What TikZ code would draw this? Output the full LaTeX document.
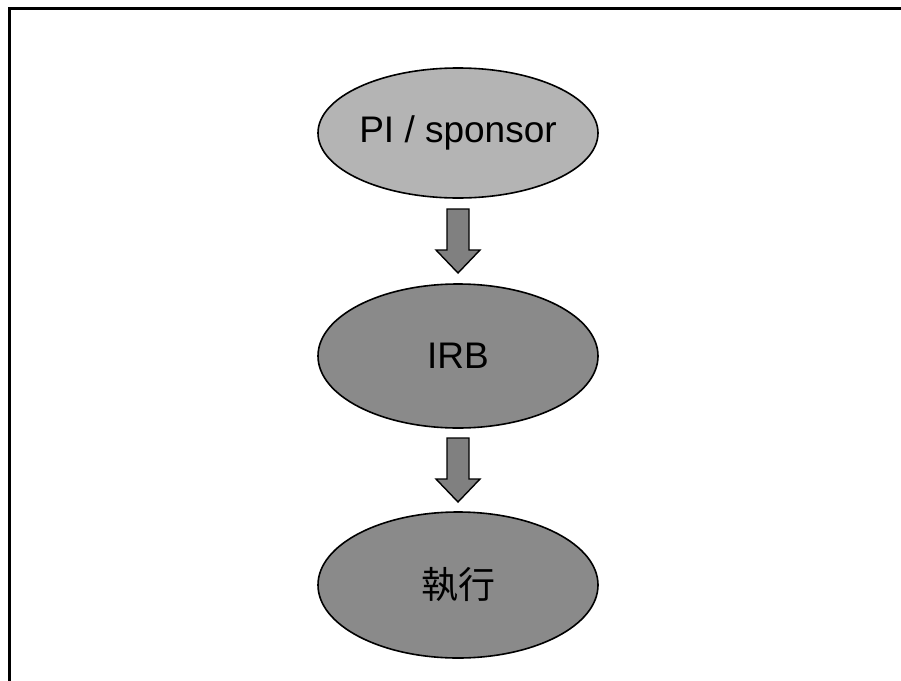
\documentclass[tikz,border=0pt]{standalone}
\usepackage{fontspec}
\setmainfont{Liberation Sans}
\newfontfamily\cjkfont{Noto Sans CJK TC}
\usetikzlibrary{shapes.geometric,calc}
\definecolor{lightfill}{RGB}{180,180,180}
\definecolor{darkfill}{RGB}{138,138,138}
\definecolor{arrowfill}{RGB}{128,128,128}
\tikzset{
  stage/.style={ellipse, draw=black, line width=1.6pt, minimum width=280pt,
    inner sep=0pt, font=\fontsize{37}{40}\selectfont, text=black},
  blockarrow/.style={draw=black, line width=1.4pt, fill=arrowfill, line join=miter}
}
% block arrow pointing down, centred on the given coordinate
\newcommand{\downarrowat}[1]{%
  \draw[blockarrow] ($(#1)+(-11,-32)$) -- ($(#1)+(11,-32)$) -- ($(#1)+(11,9)$)
    -- ($(#1)+(22,9)$) -- ($(#1)+(0,32)$) -- ($(#1)+(-22,9)$)
    -- ($(#1)+(-11,9)$) -- cycle;}
\begin{document}
\begin{tikzpicture}[x=1pt,y=-1pt]
  \useasboundingbox (0,0) rectangle (901,680);
  \clip (0,0) rectangle (901,680);
  \fill[white] (0,0) rectangle (901,680);
  % slide frame (top and left edges)
  \coordinate (fl) at (9.5,690);
  \coordinate (fc) at (9.5,8.5);
  \coordinate (fr) at (910,8.5);
  \draw[line width=3pt, line join=miter] (fl) -- (fc) -- (fr);
  % stages
  \node[stage, fill=lightfill, minimum height=130pt] (pi) at (458,133) {PI / sponsor};
  \node[stage, fill=darkfill, minimum height=144pt] (irb) at (458,356) {IRB};
  \node[stage, fill=darkfill, minimum height=146pt] (exe) at (458,585) {\cjkfont 執行};
  % flow arrows
  \coordinate (m1) at ($(pi.south)!0.5!(irb.north)$);
  \coordinate (m2) at ($(irb.south)!0.5!(exe.north)$);
  \downarrowat{m1}
  \downarrowat{m2}
\end{tikzpicture}
\end{document}
